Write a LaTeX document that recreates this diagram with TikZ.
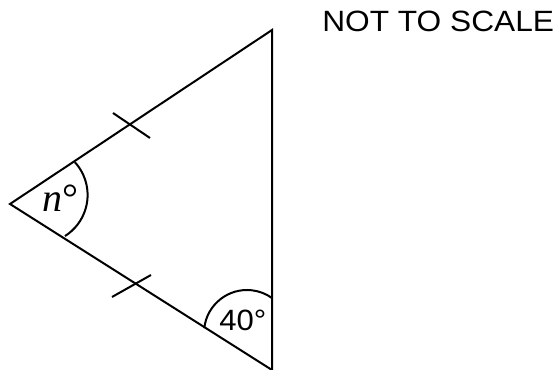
\documentclass[tikz,border=0pt]{standalone}
\usepackage{graphicx}
\usepackage{fontspec}
\setmainfont{Liberation Sans}
\newfontfamily\seriffont{Liberation Serif}
\begin{document}
\begin{tikzpicture}[x=0.75pt,y=-0.75pt,
  edge/.style={line width=1.5pt, line join=miter},
  arcline/.style={line width=1.5pt},
  lbl/.style={inner sep=0pt, font=\fontsize{22}{26}\selectfont},
  anglelbl/.style={inner sep=0pt}]
\useasboundingbox (0,0) rectangle (558,370);
\coordinate (T) at (272,30);
\coordinate (L) at (10,204);
\coordinate (B) at (272,370);
\draw[edge] (T) -- (L) -- (B) -- cycle;
% tick marks
\coordinate (t1a) at (113,113);
\coordinate (t1b) at (150,138);
\coordinate (t2a) at (112,297);
\coordinate (t2b) at (151,275);
\draw[arcline] (t1a) -- (t1b);
\draw[arcline] (t2a) -- (t2b);
% angle arcs
\coordinate (nc) at (39,195);
\coordinate (fc) at (247,333);
\draw[arcline] ([shift={(-42.5:48.6)}]nc) arc[start angle=-42.5, end angle=57.6, radius=48.6];
\draw[arcline] ([shift={(186.5:43)}]fc) arc[start angle=186.5, end angle=305.5, radius=43];
% labels
\node[anglelbl, anchor=base west] (nlbl) at (42,212) {\fontsize{30}{34}\selectfont\seriffont\itshape n\upshape°};
\node[lbl, anchor=base west] (forty) at (219,331) {\scalebox{1.06}[1]{40°}};
\node[lbl, anchor=base west] (nts) at (322,32) {\scalebox{1.08}[1]{NOT TO SCALE}};
\end{tikzpicture}
\end{document}
